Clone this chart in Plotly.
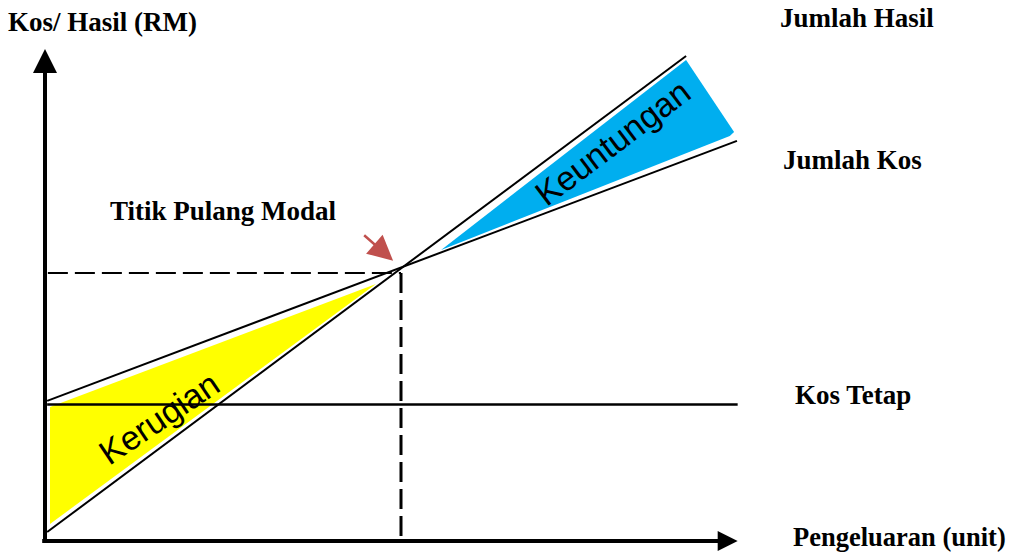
import plotly.graph_objects as go

# ---- data (chart units: quantity on x, RM on y) ----
units_line = [0.3, 89.5]
total_revenue = [3.3, 179.3]
units_cost = [0.3, 96.6]
total_cost = [51.8, 147.9]
units_fixed = [0.3, 96.7]
fixed_cost = [50.5, 50.5]
break_even_units = 49.7
break_even_value = 99.1
loss_units = [0.7, 46.2, 0.7]
loss_values = [49.5, 95.0, 6.3]
profit_units = [55.3, 89.5, 96.2, 95.6]
profit_values = [107.6, 177.8, 151.2, 149.7]
x_max = 96.7
y_max = 181.9

W, H = 1012, 555
ML, MB = 45, 14
PW, PH = W - ML, H - MB
XR = [0, 135]
YR = [0, 200]


def px_x(p):
    return (p - ML) / PW


def px_y(p):
    return (PH - p) / PH


fig = go.Figure()

fig.add_trace(go.Scatter(x=loss_units, y=loss_values, fill="toself",
                         fillcolor="#FFFF00", mode="none", hoverinfo="skip"))
fig.add_trace(go.Scatter(x=profit_units, y=profit_values, fill="toself",
                         fillcolor="#00AEEF", mode="none", hoverinfo="skip"))

fig.add_trace(go.Scatter(x=units_line, y=total_revenue, mode="lines",
                         line=dict(color="black", width=2)))
fig.add_trace(go.Scatter(x=units_cost, y=total_cost, mode="lines",
                         line=dict(color="black", width=2)))
fig.add_trace(go.Scatter(x=units_fixed, y=fixed_cost, mode="lines",
                         line=dict(color="black", width=2.5)))
fig.add_trace(go.Scatter(x=[0.4, break_even_units], y=[break_even_value, break_even_value],
                         mode="lines", line=dict(color="black", width=2, dash="20px,7px")))
fig.add_trace(go.Scatter(x=[break_even_units, break_even_units], y=[break_even_value, 0],
                         mode="lines", line=dict(color="black", width=3, dash="20px,7px")))

ann = []
# axes with arrowheads
ann.append(dict(x=0, y=y_max, ax=0, ay=-0.8, xref="x", yref="y", axref="x", ayref="y",
                showarrow=True, arrowhead=2, arrowsize=1.2, arrowwidth=4, arrowcolor="black", text=""))
ann.append(dict(x=x_max, y=0, ax=-0.6, ay=0, xref="x", yref="y", axref="x", ayref="y",
                showarrow=True, arrowhead=2, arrowsize=1.0, arrowwidth=4, arrowcolor="black", text=""))
# break-even pointer
ann.append(dict(x=48.6, y=103.6, ax=44.35, ay=113.5, xref="x", yref="y", axref="x", ayref="y",
                showarrow=True, arrowhead=2, arrowsize=2.0, arrowwidth=2.5, arrowcolor="#C0504D", text=""))

labels = [
    ("Kos/ Hasil (RM)", 6, 22, 27),
    ("Jumlah Hasil", 778, 18, 27),
    ("Jumlah Kos", 781, 160, 27),
    ("Titik Pulang Modal", 108, 211, 27),
    ("Kos Tetap", 793, 395, 27),
    ("Pengeluaran (unit)", 791, 537, 26.5),
]
for t, x, y, s in labels:
    ann.append(dict(text="<b>%s</b>" % t, x=px_x(x), y=px_y(y), xref="paper", yref="paper",
                    xanchor="left", yanchor="middle", showarrow=False,
                    font=dict(family="Liberation Serif", size=s, color="black")))

sans = dict(family="Liberation Sans", size=34, color="black")
ann.append(dict(text="Kerugian", x=px_x(159), y=px_y(418), xref="paper", yref="paper",
                xanchor="center", yanchor="middle", showarrow=False, textangle=-34, font=sans))
ann.append(dict(text="Keuntungan", x=px_x(612), y=px_y(143), xref="paper", yref="paper",
                xanchor="center", yanchor="middle", showarrow=False, textangle=-37, font=sans))

fig.update_layout(
    width=W, height=H,
    margin=dict(l=ML, r=0, t=0, b=MB),
    paper_bgcolor="white", plot_bgcolor="white",
    showlegend=False,
    xaxis=dict(range=XR, visible=False, fixedrange=True),
    yaxis=dict(range=YR, visible=False, fixedrange=True),
    annotations=ann,
)

fig.write_html("out.html", config={"displayModeBar": False},
               post_script="document.body.style.margin='0';document.body.style.overflow='hidden';")
